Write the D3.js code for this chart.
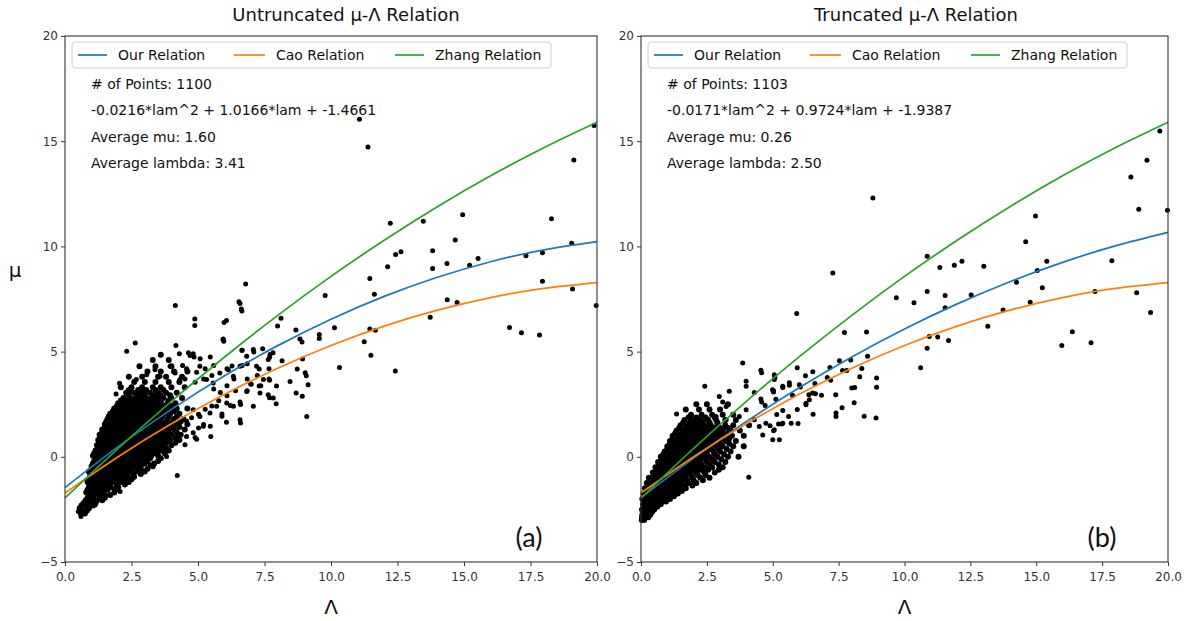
<!DOCTYPE html>
<html><head><meta charset="utf-8">
<script src="https://cdn.jsdelivr.net/npm/d3@7"></script>
<style>body{margin:0;background:#fff} svg{display:block} text{font-family:"DejaVu Sans",sans-serif}</style>
</head><body>
<svg id="c" width="1185" height="621"></svg>
<script>
// ---------- data ----------
const xTicks=[0,2.5,5,7.5,10,12.5,15,17.5,20];
const yTicks=[-5,0,5,10,15,20];
const legendLabels=["Our Relation","Cao Relation","Zhang Relation"];
const seriesColors=["#1f77b4","#ff7f0e","#2ca02c"];
const titles=["Untruncated \u03bc-\u039b Relation","Truncated \u03bc-\u039b Relation"];
const statsA=["# of Points: 1100","-0.0216*lam^2 + 1.0166*lam + -1.4661","Average mu: 1.60","Average lambda: 3.41"];
const statsB=["# of Points: 1103","-0.0171*lam^2 + 0.9724*lam + -1.9387","Average mu: 0.26","Average lambda: 2.50"];
const panelTags=["(a)","(b)"];
const xLabel="\u039b", yLabel="\u03bc";

// relation curves sampled at lambda grid
const lamGrid=[0,2,4,6,8,10,12,14,16,18,20];
const ourMuA=[-1.466,0.481,2.255,3.856,5.284,6.540,7.623,8.533,9.270,9.834,10.226];
const ourMuB=[-1.939,-0.062,1.677,3.280,4.746,6.075,7.268,8.323,9.242,10.024,10.669];
const caoMu=[-1.718,0.006,1.568,2.970,4.212,5.292,6.212,6.970,7.568,8.006,8.282];
const zhangMu=[-1.957,0.405,2.639,4.745,6.723,8.573,10.295,11.889,13.355,14.693,15.903];

// dense cluster, panel (a): [mu, [lambda...]]
const blobA=[
[-2.7,[0.6,0.75]],
[-2.57,[0.65,0.82]],
[-2.45,[0.55,0.9]],
[-2.32,[0.62,0.8,1.05]],
[-2.2,[0.7,0.95,1.15]],
[-2.07,[0.78,0.98,1.2,1.4]],
[-1.95,[0.85,1.05,1.3,1.5]],
[-1.82,[0.9,1.1,1.3,1.5,1.7]],
[-1.7,[0.8,1.0,1.2,1.4,1.85]],
[-1.57,[0.85,1.05,1.25,1.45,1.6,1.9]],
[-1.45,[0.9,1.1,1.3,1.5,1.7,2.0]],
[-1.32,[0.92,1.1,1.3,1.5,1.7,1.95,2.25]],
[-1.2,[0.85,1.0,1.2,1.4,1.6,1.8,2.1,2.4]],
[-1.07,[0.9,1.05,1.25,1.45,1.65,1.85,2.0,2.25,2.5]],
[-0.95,[0.95,1.1,1.3,1.5,1.7,1.9,2.1,2.35,2.6]],
[-0.82,[0.95,1.15,1.35,1.55,1.75,1.95,2.15,2.3,2.55,2.85]],
[-0.7,[0.9,1.05,1.2,1.4,1.6,1.8,2.0,2.2,2.4,2.7,3.0]],
[-0.57,[1.0,1.15,1.3,1.5,1.7,1.9,2.1,2.3,2.5,2.75,3.1]],
[-0.45,[1.0,1.2,1.4,1.6,1.8,2.0,2.2,2.4,2.6,2.85,3.3]],
[-0.32,[1.05,1.25,1.45,1.65,1.85,2.05,2.25,2.45,2.65,2.8,3.0,3.35]],
[-0.2,[1.1,1.3,1.5,1.7,1.9,2.1,2.3,2.5,2.7,2.9,3.1,3.5]],
[-0.07,[1.15,1.35,1.55,1.75,1.95,2.15,2.35,2.55,2.75,2.95,3.2,3.6]],
[0.05,[1.05,1.25,1.45,1.65,1.85,2.05,2.25,2.45,2.65,2.85,3.05,3.25,3.5]],
[0.17,[1.1,1.3,1.5,1.7,1.9,2.1,2.3,2.5,2.7,2.9,3.1,3.3,3.45,3.75]],
[0.3,[1.15,1.35,1.55,1.75,1.95,2.15,2.35,2.55,2.75,2.95,3.15,3.35,3.6,3.9]],
[0.42,[1.25,1.45,1.65,1.85,2.05,2.25,2.45,2.65,2.85,3.05,3.25,3.5,3.8]],
[0.55,[1.2,1.4,1.6,1.8,2.0,2.2,2.4,2.6,2.8,3.0,3.2,3.4,3.65,4.0]],
[0.67,[1.3,1.5,1.7,1.9,2.1,2.3,2.5,2.7,2.9,3.1,3.3,3.55,3.8,4.15]],
[0.8,[1.25,1.45,1.65,1.85,2.05,2.25,2.45,2.65,2.85,3.05,3.25,3.45,3.7,3.95,4.3]],
[0.92,[1.35,1.55,1.75,1.95,2.15,2.35,2.55,2.75,2.95,3.15,3.35,3.6,3.85,4.15]],
[1.05,[1.3,1.5,1.7,1.9,2.1,2.3,2.5,2.7,2.9,3.1,3.3,3.5,3.75,4.0,4.35]],
[1.17,[1.4,1.6,1.8,2.0,2.2,2.4,2.6,2.8,3.0,3.2,3.4,3.65,3.9,4.2]],
[1.3,[1.4,1.6,1.8,2.0,2.2,2.4,2.6,2.8,3.0,3.2,3.4,3.6,3.85,4.1,4.5]],
[1.42,[1.5,1.7,1.9,2.1,2.3,2.5,2.7,2.9,3.1,3.3,3.5,3.75,4.0,4.3]],
[1.55,[1.5,1.7,1.9,2.1,2.3,2.5,2.7,2.9,3.1,3.3,3.5,3.7,3.95,4.2,4.6]],
[1.67,[1.55,1.8,2.0,2.2,2.4,2.6,2.8,3.0,3.2,3.4,3.6,3.8,4.05,4.35]],
[1.8,[1.6,1.8,2.0,2.2,2.4,2.6,2.8,3.0,3.2,3.4,3.6,3.85,4.1,4.45]],
[1.92,[1.65,1.85,2.05,2.25,2.45,2.65,2.85,3.05,3.25,3.45,3.65,3.9,4.2]],
[2.05,[1.7,1.9,2.1,2.3,2.5,2.7,2.9,3.1,3.3,3.5,3.7,3.95,4.3]],
[2.17,[1.8,2.0,2.2,2.4,2.6,2.8,3.0,3.2,3.4,3.6,3.8,4.1]],
[2.3,[1.85,2.05,2.25,2.45,2.65,2.85,3.05,3.25,3.45,3.65,3.9,4.2,4.6]],
[2.42,[1.95,2.15,2.35,2.55,2.75,2.95,3.15,3.35,3.55,3.75,4.0]],
[2.55,[2.0,2.2,2.4,2.6,2.8,3.0,3.2,3.4,3.6,3.85,4.15]],
[2.67,[2.1,2.35,2.55,2.75,2.95,3.15,3.35,3.6,3.9]],
[2.8,[2.2,2.45,2.65,2.85,3.05,3.25,3.45,3.7,4.0,4.4]],
[2.92,[2.4,2.75,3.0,3.35,3.6,3.95]],
[3.05,[2.3,2.6,2.9,3.2,3.5,3.8,4.2]],
[3.17,[2.45,2.75,3.05,3.4,3.7]],
[3.3,[2.1,2.5,2.9,3.3,3.6,4.0,4.5]],
[3.55,[2.6,3.0,3.4,3.9,4.3]],
[3.8,[2.4,2.9,3.5,3.8,4.4]],
[4.05,[3.1,3.6,4.1,4.6]],
[4.3,[2.8,3.4,4.0]],
[4.6,[3.3,3.9]],
[4.85,[3.6]]
];
// scattered points, panel (a): [lambda, mu]
const scatterA=[
[11.07,16.04],[11.39,14.72],[19.13,14.11],[19.89,15.75],[12.23,11.10],[13.47,11.19],[14.95,11.5],[18.29,11.31],
[14.67,10.30],[13.82,9.79],[12.43,9.62],[12.63,9.74],[12.13,9.03],[13.82,8.95],[14.36,9.19],[15.21,9.1],
[15.53,9.43],[17.33,9.56],[17.95,9.7],[19.05,10.15],[17.95,8.34],[19.08,7.97],[19.97,7.19],[11.46,8.47],
[11.63,7.73],[9.78,7.67],[14.37,7.46],[14.74,7.33],[13.73,6.63],[16.71,6.15],[17.16,5.9],[17.84,5.79],
[11.46,6.07],[11.67,6.02],[11.25,5.47],[11.5,4.83],[12.42,4.08],[10.32,4.25],[10.13,6.13],[9.56,5.81],
[9.56,5.62],[8.68,6.03],[8.91,5.46],[8.12,6.58],[7.99,6.22],[9.09,1.91],[6.79,8.21],[6.58,7.29],
[6.65,6.93],[5.98,6.38],[6.07,6.48],[5.97,5.49],[4.88,6.55],[4.88,6.24],[6.65,5.07],[7.1,4.98],
[7.82,4.94],[7.69,4.73],[8.16,4.56],[8.73,4.17],[8.93,4.65],[9.07,3.85],[9.14,3.43],[8.46,3.58],
[8.69,3.03],[8.92,2.88],[7.95,3.37],[7.69,3.64],[7.69,2.81],[7.94,2.52],[7.3,4.17],[7.3,3.36],
[7.0,3.45],[6.83,3.1],[6.6,2.49],[6.6,1.61],[6.22,2.44],[6.07,1.64],[5.9,2.04],[5.9,1.93],
[4.42,4.34],[4.70,4.82],[4.85,4.74],[5.08,4.66],[5.46,4.74],[4.57,4.18],[4.95,4.02],[5.27,4.18],
[5.59,4.34],[4.51,3.70],[4.89,3.54],[5.21,3.70],[5.52,3.86],[6.09,4.18],[6.28,4.31],[6.66,4.34],
[6.85,4.42],[7.67,4.18],[7.67,3.70],[7.36,3.38],[6.98,3.46],[6.85,3.14],[5.46,1.45],[5.21,1.53],
[5.02,1.37],[5.59,3.22],[5.84,3.06],[6.09,3.38],[6.35,3.70],[5.78,2.66],[5.52,2.42],[5.27,2.26],
[5.02,2.02],[4.76,1.86],[4.57,1.70],[6.09,2.90],[6.41,3.14],[6.85,3.70],[7.23,3.86],[6.66,5.06],
[4.15,7.19],[6.54,7.37],[6.63,7.03],[5.94,5.57],[2.64,5.41],[2.32,5.02],[4.17,5.29],[7.08,5.1],
[7.43,5.13],[7.71,4.86],[7.64,2.95],[7.83,2.79],[6.58,1.76],[5.48,0.97],[4.22,-0.89],[0.6,-2.84],
[0.5,-2.6],[0.7,-2.55],[0.81,-2.17],[1.13,-2.29],[1.3,-1.93],[2.07,-1.65],[1.84,-1.49],
[4.3,4.9],[4.64,4.94],[4.82,4.9],[5.95,5.6],
[2.38,3.19],[2.68,3.67],[3.07,3.9],[3.38,4.14],[3.57,3.83],[3.95,4.3],[4.14,3.98],[4.32,3.67],
[5.07,4.3],[5.32,3.67],[5.57,3.51],[5.82,3.98],[6.14,4.14],[6.33,3.83],[6.58,4.3],[6.83,4.78],
[7.2,4.3],[7.46,3.67],[7.64,4.62],[6.58,2.6],[6.08,2.56],[5.7,2.4],[5.45,2.08],[5.07,1.92],
[4.82,2.24],[5.2,1.45],[4.82,1.14],[4.57,0.97],[4.95,0.83],[6.33,2.4],[7.08,2.4],[7.33,3.03],
[2.88,-0.62],[3.2,-0.38],[3.7,0.25],[3.82,0.01],[4.51,0.57],[4.89,0.92],[4.2,0.97],
[8.83,5.6],[9.03,3.99],[1.92,2.99],[2.05,3.5]
];

// dense cluster, panel (b)
const blobB=[
[-3.0,[0.03,0.12]],
[-2.87,[0.04,0.15,0.28]],
[-2.75,[0.05,0.2,0.35]],
[-2.62,[0.1,0.25,0.42]],
[-2.5,[0.04,0.18,0.32,0.5]],
[-2.37,[0.1,0.25,0.45,0.62]],
[-2.25,[0.08,0.22,0.38,0.55,0.75]],
[-2.12,[0.12,0.28,0.42,0.6,0.78,0.95]],
[-2.0,[0.05,0.2,0.35,0.5,0.68,0.85,1.1]],
[-1.87,[0.15,0.3,0.48,0.65,0.85,1.0,1.25]],
[-1.75,[0.1,0.25,0.42,0.6,0.78,0.95,1.15,1.4]],
[-1.62,[0.2,0.38,0.55,0.72,0.9,1.1,1.3,1.55]],
[-1.5,[0.15,0.32,0.5,0.68,0.86,1.05,1.25,1.45,1.7]],
[-1.37,[0.3,0.48,0.66,0.85,1.05,1.25,1.45,1.65,1.95]],
[-1.25,[0.22,0.4,0.58,0.76,0.95,1.15,1.35,1.55,1.8,2.1]],
[-1.12,[0.38,0.55,0.75,0.95,1.15,1.35,1.55,1.75,2.0,2.35]],
[-1.0,[0.3,0.5,0.7,0.9,1.1,1.3,1.5,1.7,1.95,2.25,2.6]],
[-0.87,[0.5,0.68,0.88,1.08,1.28,1.48,1.68,1.9,2.15,2.45]],
[-0.75,[0.45,0.65,0.85,1.05,1.25,1.45,1.65,1.85,2.1,2.4,2.8]],
[-0.62,[0.6,0.8,1.0,1.2,1.4,1.6,1.8,2.0,2.25,2.55,2.95]],
[-0.5,[0.55,0.75,0.95,1.15,1.35,1.55,1.75,1.95,2.15,2.4,2.7,3.1]],
[-0.37,[0.7,0.9,1.1,1.3,1.5,1.7,1.9,2.1,2.3,2.6,2.95]],
[-0.25,[0.65,0.85,1.05,1.25,1.45,1.65,1.85,2.05,2.25,2.5,2.8,3.2]],
[-0.12,[0.8,1.0,1.2,1.4,1.6,1.8,2.0,2.2,2.45,2.7,3.05]],
[0.0,[0.75,0.95,1.15,1.35,1.55,1.75,1.95,2.15,2.35,2.6,2.9,3.3,3.7]],
[0.12,[0.85,1.05,1.25,1.45,1.65,1.85,2.05,2.25,2.5,2.8,3.15]],
[0.25,[0.9,1.1,1.3,1.5,1.7,1.9,2.1,2.3,2.5,2.75,3.0,3.4]],
[0.37,[1.0,1.2,1.4,1.6,1.8,2.0,2.2,2.4,2.65,2.95,3.25]],
[0.5,[1.0,1.2,1.4,1.6,1.8,2.0,2.2,2.4,2.6,2.85,3.1,3.5,3.9]],
[0.62,[1.1,1.3,1.5,1.7,1.9,2.1,2.3,2.5,2.75,3.0,3.35]],
[0.75,[1.1,1.3,1.5,1.7,1.9,2.1,2.3,2.5,2.7,2.95,3.2,3.6]],
[0.87,[1.2,1.4,1.6,1.8,2.0,2.2,2.4,2.6,2.8,3.05,3.35]],
[1.0,[1.2,1.45,1.65,1.85,2.05,2.25,2.45,2.65,2.9,3.15,3.45,3.9]],
[1.12,[1.3,1.55,1.75,1.95,2.15,2.35,2.55,2.75,3.0,3.3]],
[1.25,[1.35,1.6,1.8,2.0,2.2,2.4,2.6,2.85,3.1,3.4,3.75]],
[1.37,[1.45,1.7,1.9,2.1,2.3,2.5,2.75,3.0,3.3]],
[1.5,[1.5,1.75,2.0,2.2,2.4,2.65,2.9,3.2,3.5,4.1]],
[1.62,[1.6,1.85,2.1,2.35,2.6,2.9]],
[1.75,[1.65,1.95,2.25,2.55,2.85,3.2,3.6]],
[1.87,[1.8,2.1,2.45,2.8]],
[2.0,[1.9,2.3,2.7,3.1,3.5]],
[2.25,[1.7,2.2,2.6,3.0]],
[2.5,[2.1,2.5,3.3]]
];
const scatterB=[
[19.69,15.48],[19.2,14.1],[18.59,13.3],[18.89,11.77],[19.98,11.72],[8.8,12.3],[14.97,11.45],[14.6,10.22],
[7.28,8.74],[10.86,9.53],[11.34,9.0],[11.89,9.11],[12.18,9.29],[13.01,9.06],[15.4,9.3],[15.04,8.86],
[14.25,8.3],[15.23,8.04],[14.77,7.34],[17.87,9.32],[17.23,7.86],[18.81,7.8],[19.34,6.86],[13.74,6.98],
[13.16,6.2],[15.97,5.29],[16.37,5.94],[17.08,5.42],[9.69,7.56],[10.36,7.32],[10.86,7.86],[11.54,7.67],
[11.54,7.08],[12.53,7.69],[5.91,6.81],[7.72,5.91],[8.56,5.93],[10.94,5.72],[11.26,5.69],[11.67,5.53],
[10.86,5.16],[10.61,4.23],[8.6,4.78],[7.96,4.6],[7.53,4.57],[7.17,4.25],[5.93,4.23],[6.52,4.04],
[6.24,3.85],[5.08,3.77],[4.58,4.0],[7.65,4.1],[7.81,4.1],[8.38,4.2],[8.3,3.8],[8.94,3.75],
[8.94,3.3],[8.11,3.29],[8.0,3.27],[7.07,3.77],[7.2,3.64],[6.6,3.48],[6.85,2.92],[6.62,3.0],
[6.37,2.95],[7.39,2.95],[8.09,2.57],[7.63,2.33],[7.4,1.91],[8.47,1.93],[8.92,1.85],[6.53,2.02],
[6.26,2.55],[6.26,2.47],[5.93,2.25],[5.96,1.58],[6.05,3.32],[5.75,2.92],[5.63,3.4],[5.38,3.29],
[5.03,3.14],[5.03,3.08],[5.12,2.73],[5.15,2.01],[5.38,2.2],[5.6,1.91],[4.58,2.6],[4.71,2.44],
[5.22,1.56],[5.34,1.56],[5.03,1.24],[4.9,1.48],
[3.86,4.46],[4.55,4.11],[5.06,3.9],[2.42,3.35],[1.35,2.03],[2.97,2.87],[3.35,3.11],[3.99,3.59],
[3.99,3.35],[4.3,3.06],[4.55,2.75],[3.1,2.6],[3.23,2.39],[4.99,3.19],[5.38,3.35],[5.06,3.67],
[5.63,3.52],[6.01,3.43],[6.39,2.71],[6.51,3.03],[7.4,2.08],[4.09,-0.97],[2.53,1.76],[2.85,1.92],
[3.23,1.76],[3.73,1.92],[3.99,2.24],[4.3,1.76],[4.49,1.44],[4.74,1.6],[5.06,1.28],[4.62,1.04],
[5.25,0.81],[5.38,1.6],[5.7,1.6],[5.0,0.81]
];

// ---------- drawing ----------
const svg=d3.select("#c");
const panels=[
 {x0:65,x1:597,titleX:346,tagX:529,blob:blobA,scatter:scatterA,our:ourMuA,stats:statsA,tag:panelTags[0],title:titles[0],ylab:true},
 {x0:641,x1:1168,titleX:916,tagX:1102,blob:blobB,scatter:scatterB,our:ourMuB,stats:statsB,tag:panelTags[1],title:titles[1],ylab:false}
];
const yTop=36,yBot=562;

panels.forEach(p=>{
  const x=d3.scaleLinear().domain([0,20]).range([p.x0,p.x1]);
  const y=d3.scaleLinear().domain([-5,20]).range([yBot,yTop]);
  const g=svg.append("g");

  const blobPts=[];
  p.blob.forEach(([mu,lams])=>lams.forEach(l=>blobPts.push([l,mu])));
  g.append("g").selectAll("circle").data(blobPts).join("circle")
    .attr("cx",d=>x(d[0])).attr("cy",d=>y(d[1])).attr("r",3.0).attr("fill","#000");
  g.append("g").selectAll("circle").data(p.scatter).join("circle")
    .attr("cx",d=>x(d[0])).attr("cy",d=>y(d[1])).attr("r",2.5).attr("fill","#000");

  const line=d3.line().x(d=>x(d[0])).y(d=>y(d[1])).curve(d3.curveNatural);
  const curves=[p.our,caoMu,zhangMu];
  curves.forEach((arr,i)=>{
    g.append("path").attr("d",line(lamGrid.map((l,k)=>[l,arr[k]])))
      .attr("fill","none").attr("stroke",seriesColors[i]).attr("stroke-width",1.7);
  });

  // axes
  const ax=g.append("g").attr("transform",`translate(0,${yBot})`)
    .call(d3.axisBottom(x).tickValues(xTicks).tickFormat(d3.format(".1f")).tickSize(4).tickPadding(6).tickSizeOuter(0));
  const ay=g.append("g").attr("transform",`translate(${p.x0},0)`)
    .call(d3.axisLeft(y).tickValues(yTicks).tickFormat(d=>d<0?"\u2212"+Math.abs(d):d).tickSize(4).tickPadding(3).tickSizeOuter(0));
  [ax,ay].forEach(a=>{
    a.select(".domain").remove();
    a.selectAll("line").attr("stroke","#333");
    a.selectAll("text").attr("fill","#333").style("font-size","12px").style("font-family","DejaVu Sans");
  });
  g.append("rect").attr("x",p.x0).attr("y",yTop).attr("width",p.x1-p.x0).attr("height",yBot-yTop)
    .attr("fill","none").attr("stroke","#333").attr("stroke-width",1.1);

  // legend
  const lx=p.x0+7;
  g.append("rect").attr("x",lx).attr("y",42).attr("width",479).attr("height",26).attr("rx",3)
    .attr("fill","#fff").attr("fill-opacity",0.85).attr("stroke","#d0d0d0");
  const off=[[6,35,46],[162,193,204],[323,352,363]];
  legendLabels.forEach((lab,i)=>{
    g.append("line").attr("x1",lx+off[i][0]).attr("x2",lx+off[i][1]).attr("y1",55).attr("y2",55)
      .attr("stroke",seriesColors[i]).attr("stroke-width",1.7);
    g.append("text").attr("x",lx+off[i][2]).attr("y",55).attr("dominant-baseline","central")
      .style("font-size","14px").attr("fill","#111").text(lab);
  });
  // stats
  const sy=[84,110,136.5,163];
  p.stats.forEach((s,i)=>{
    g.append("text").attr("x",p.x0+26).attr("y",sy[i]).attr("dominant-baseline","central")
      .style("font-size","14px").attr("fill","#111").text(s);
  });
  // title
  g.append("text").attr("x",p.titleX).attr("y",14).attr("text-anchor","middle").attr("dominant-baseline","central")
    .style("font-size","18px").attr("fill","#111").text(p.title);
  // tag
  g.append("text").attr("x",p.tagX).attr("y",536).attr("text-anchor","middle").attr("dominant-baseline","central")
    .style("font-size","27px").style("font-family","Lato").attr("fill","#111").text(p.tag);
  // axis labels
  g.append("text").attr("x",(p.x0+p.x1)/2).attr("y",607).attr("text-anchor","middle").attr("dominant-baseline","central")
    .style("font-size","20px").attr("fill","#111").text(xLabel);
  if(p.ylab){
    g.append("text").attr("x",15).attr("y",270).attr("text-anchor","middle").attr("dominant-baseline","central")
      .style("font-size","20px").attr("fill","#111").text(yLabel);
  }
});
</script>
</body></html>
